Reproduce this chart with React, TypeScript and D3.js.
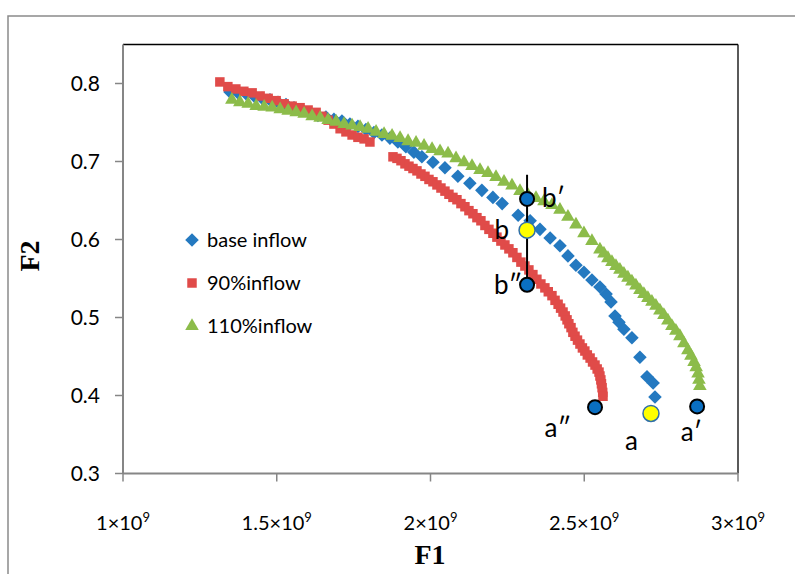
import React from 'react';
import * as d3 from 'd3';

// F1 values in units of 1e9, F2 values
const baseF1 = [1.348, 1.374, 1.400, 1.426, 1.452, 1.478, 1.504, 1.530, 1.556, 1.582, 1.608, 1.634, 1.660, 1.686, 1.712, 1.738, 1.764, 1.790, 1.816, 1.842, 1.868, 1.894, 1.920, 1.946, 1.972, 2.008, 2.047, 2.089, 2.128, 2.167, 2.203, 2.233, 2.285, 2.324, 2.356, 2.389, 2.421, 2.447, 2.473, 2.499, 2.525, 2.551, 2.571, 2.587, 2.600, 2.613, 2.629, 2.655, 2.681, 2.704, 2.724, 2.730];
const baseF2 = [0.789, 0.788, 0.787, 0.784, 0.781, 0.779, 0.776, 0.773, 0.769, 0.766, 0.762, 0.759, 0.757, 0.754, 0.752, 0.748, 0.745, 0.741, 0.737, 0.734, 0.730, 0.725, 0.719, 0.712, 0.706, 0.699, 0.692, 0.681, 0.672, 0.663, 0.654, 0.646, 0.631, 0.624, 0.613, 0.602, 0.592, 0.579, 0.567, 0.558, 0.548, 0.539, 0.530, 0.520, 0.502, 0.494, 0.485, 0.474, 0.449, 0.424, 0.416, 0.398];

const lowF1 = [1.315, 1.341, 1.367, 1.393, 1.420, 1.446, 1.472, 1.498, 1.524, 1.550, 1.576, 1.602, 1.628, 1.647, 1.667, 1.686, 1.706, 1.725, 1.745, 1.764, 1.784, 1.803,
  1.878, 1.891, 1.904, 1.917, 1.930, 1.943, 1.956, 1.969, 1.982, 1.995, 2.008, 2.021, 2.034, 2.047, 2.060, 2.073, 2.086, 2.099, 2.112, 2.125, 2.138, 2.151, 2.164, 2.177, 2.190, 2.203, 2.216, 2.229, 2.242, 2.255, 2.268, 2.281, 2.294, 2.307, 2.320, 2.333, 2.346, 2.359, 2.372, 2.383, 2.395, 2.405, 2.415, 2.423, 2.431, 2.438, 2.444, 2.450, 2.457, 2.463, 2.470, 2.478, 2.486, 2.494, 2.502, 2.510, 2.519, 2.527, 2.535, 2.542, 2.548, 2.551, 2.554, 2.556, 2.558, 2.560, 2.561];
const lowF2 = [0.802, 0.796, 0.793, 0.790, 0.788, 0.784, 0.781, 0.778, 0.774, 0.771, 0.769, 0.766, 0.763, 0.758, 0.753, 0.748, 0.742, 0.738, 0.734, 0.731, 0.729, 0.725,
  0.706, 0.704, 0.701, 0.697, 0.694, 0.691, 0.688, 0.684, 0.681, 0.677, 0.674, 0.670, 0.666, 0.662, 0.658, 0.654, 0.651, 0.646, 0.642, 0.637, 0.633, 0.628, 0.624, 0.618, 0.613, 0.608, 0.603, 0.598, 0.593, 0.588, 0.583, 0.577, 0.571, 0.566, 0.561, 0.555, 0.549, 0.543, 0.538, 0.533, 0.528, 0.522, 0.517, 0.512, 0.507, 0.502, 0.497, 0.492, 0.487, 0.481, 0.476, 0.471, 0.466, 0.461, 0.457, 0.452, 0.448, 0.443, 0.439, 0.434, 0.430, 0.425, 0.420, 0.415, 0.410, 0.404, 0.399];

const highF1 = [1.354, 1.380, 1.407, 1.433, 1.459, 1.485, 1.511, 1.537, 1.563, 1.589, 1.615, 1.641, 1.667, 1.693, 1.719, 1.745, 1.771, 1.797, 1.823, 1.849, 1.875, 1.901, 1.927, 1.953, 1.979, 2.005, 2.031, 2.057, 2.083, 2.109, 2.135, 2.161, 2.187, 2.213, 2.239, 2.265, 2.291, 2.317, 2.343, 2.369, 2.395, 2.421, 2.447, 2.473, 2.499, 2.525, 2.551, 2.564, 2.577, 2.590, 2.603, 2.616, 2.629, 2.642, 2.655, 2.668, 2.681, 2.694, 2.707, 2.720, 2.733, 2.746, 2.759, 2.772, 2.785, 2.798, 2.811, 2.824, 2.837, 2.847, 2.857, 2.864, 2.870, 2.873, 2.876];
const highF2 = [0.779, 0.776, 0.774, 0.771, 0.770, 0.769, 0.767, 0.765, 0.763, 0.761, 0.758, 0.756, 0.753, 0.751, 0.748, 0.746, 0.744, 0.742, 0.738, 0.735, 0.733, 0.730, 0.726, 0.724, 0.720, 0.716, 0.713, 0.710, 0.704, 0.699, 0.694, 0.689, 0.685, 0.680, 0.674, 0.669, 0.662, 0.657, 0.653, 0.649, 0.644, 0.638, 0.629, 0.619, 0.608, 0.598, 0.587, 0.582, 0.576, 0.571, 0.566, 0.561, 0.556, 0.551, 0.546, 0.541, 0.535, 0.530, 0.525, 0.520, 0.515, 0.509, 0.503, 0.496, 0.489, 0.483, 0.476, 0.467, 0.458, 0.451, 0.443, 0.436, 0.428, 0.420, 0.412];

// highlighted solutions
const markLabels = ["b\u2032", "b", "b\u2033", "a\u2033", "a", "a\u2032"];
const markF1 = [2.314, 2.314, 2.314, 2.535, 2.717, 2.867];
const markF2 = [0.652, 0.612, 0.542, 0.385, 0.377, 0.386];
const markYellow = [false, true, false, false, true, false];
const rangeF2 = [0.683, 0.542];

const xTicks = [1e9, 1.5e9, 2e9, 2.5e9, 3e9];
const xTickLabels = ["1", "1.5", "2", "2.5", "3"];
const yTicks = [0.3, 0.4, 0.5, 0.6, 0.7, 0.8];

const legendNames = ["base inflow", "90%inflow", "110%inflow"];

const W = 795;
const H = 574;
const plot = { left: 123, top: 44.5, right: 738, bottom: 473.5 };
const font = "Lato, 'Open Sans', sans-serif";

const BLUE = '#2479C0';
const RED = '#E04B49';
const GREEN = '#8CBC4A';

const diamond = d3.symbol().type(d3.symbolSquare).size(92)();
const square = d3.symbol().type(d3.symbolSquare).size(90)();
const triangle = d3.symbol().type(d3.symbolTriangle).size(80)();

export default function App() {
  const x = d3.scaleLinear().domain([1e9, 3e9]).range([plot.left, plot.right]);
  const y = d3.scaleLinear().domain([0.3, 0.85]).range([plot.bottom, plot.top]);

  const series = [
    { f1: baseF1, f2: baseF2, path: diamond, color: BLUE, rot: 45 },
    { f1: lowF1, f2: lowF2, path: square, color: RED, rot: 0 },
    { f1: highF1, f2: highF2, path: triangle, color: GREEN, rot: 0 },
  ];

  // label offsets next to each highlighted point
  const labelOffsets: [number, number, string][] = [
    [15, 8, 'start'], [-18, 9, 'end'], [-5, 9, 'end'],
    [-24, 30, 'end'], [-13, 37, 'end'], [5, 35, 'end'],
  ];

  return (
    <svg width={W} height={H} style={{ position: 'absolute', left: 0, top: 0, background: '#fff' }}>
      <rect x={8} y={16} width={W} height={H} fill="#fff" stroke="#8a8a8a" strokeWidth={1.5} />

      {/* plot frame: dark top/right, gray axes */}
      <line x1={plot.left} x2={plot.right} y1={plot.top} y2={plot.top} stroke="#000" strokeWidth={1.3} />
      <line x1={plot.right} x2={plot.right} y1={plot.top} y2={plot.bottom} stroke="#000" strokeWidth={1.3} />
      <line x1={plot.left} x2={plot.left} y1={plot.top} y2={plot.bottom} stroke="#868686" strokeWidth={2} />
      <line x1={plot.left} x2={plot.right} y1={plot.bottom} y2={plot.bottom} stroke="#868686" strokeWidth={2} />

      {yTicks.map(t => (
        <g key={'y' + t}>
          <line x1={plot.left - 8} x2={plot.left} y1={y(t)} y2={y(t)} stroke="#868686" strokeWidth={1.5} />
          <text x={100} y={y(t) + 7} textAnchor="end" fontFamily={font} fontSize={21} fill="#000">{t.toFixed(1)}</text>
        </g>
      ))}
      {xTicks.map((t, i) => (
        <g key={'x' + t}>
          <line x1={x(t)} x2={x(t)} y1={plot.bottom} y2={plot.bottom + 8} stroke="#868686" strokeWidth={1.5} />
          <text x={x(t)} y={530} textAnchor="middle" fontFamily={font} fontSize={20} fill="#000">
            {xTickLabels[i]}{'\u00d710'}<tspan fontSize={13} dy={-8}>9</tspan>
          </text>
        </g>
      ))}

      <text x={430} y={564} textAnchor="middle" fontFamily="'Liberation Serif', serif" fontWeight="bold" fontSize={28}>F1</text>
      <text transform={`translate(39,256) rotate(-90)`} textAnchor="middle" fontFamily="'Liberation Serif', serif" fontWeight="bold" fontSize={28}>F2</text>

      {series.map((s, si) => (
        <g key={'s' + si}>
          {s.f1.map((v, i) => (
            <path key={i} d={s.path} fill={s.color}
              transform={`translate(${x(v * 1e9)},${y(s.f2[i])}) rotate(${s.rot})`} />
          ))}
        </g>
      ))}

      {legendNames.map((name, i) => {
        const ly = 240 + i * 43;
        const s = series[i];
        return (
          <g key={name}>
            <path d={s.path} fill={s.color} transform={`translate(192,${ly}) rotate(${s.rot})`} />
            <text x={207} y={ly + 7} fontFamily={font} fontSize={20} fill="#000">{name}</text>
          </g>
        );
      })}

      <line x1={x(markF1[0] * 1e9)} x2={x(markF1[0] * 1e9)} y1={y(rangeF2[0])} y2={y(rangeF2[1])} stroke="#000" strokeWidth={2} />
      {markF1.map((v, i) => {
        const cx = x(v * 1e9);
        const cy = y(markF2[i]);
        const [dx, dy, anchor] = labelOffsets[i];
        return (
          <g key={'m' + i}>
            <circle cx={cx} cy={cy} r={markYellow[i] ? 8 : 7}
              fill={markYellow[i] ? '#FFFF00' : '#0A6FC2'}
              stroke={markYellow[i] ? '#2F6FA8' : '#000'} strokeWidth={markYellow[i] ? 1.5 : 2} />
            <text x={cx + dx} y={cy + dy} textAnchor={anchor as any} fontFamily={font} fontSize={26} fill="#000">{markLabels[i]}</text>
          </g>
        );
      })}
    </svg>
  );
}
